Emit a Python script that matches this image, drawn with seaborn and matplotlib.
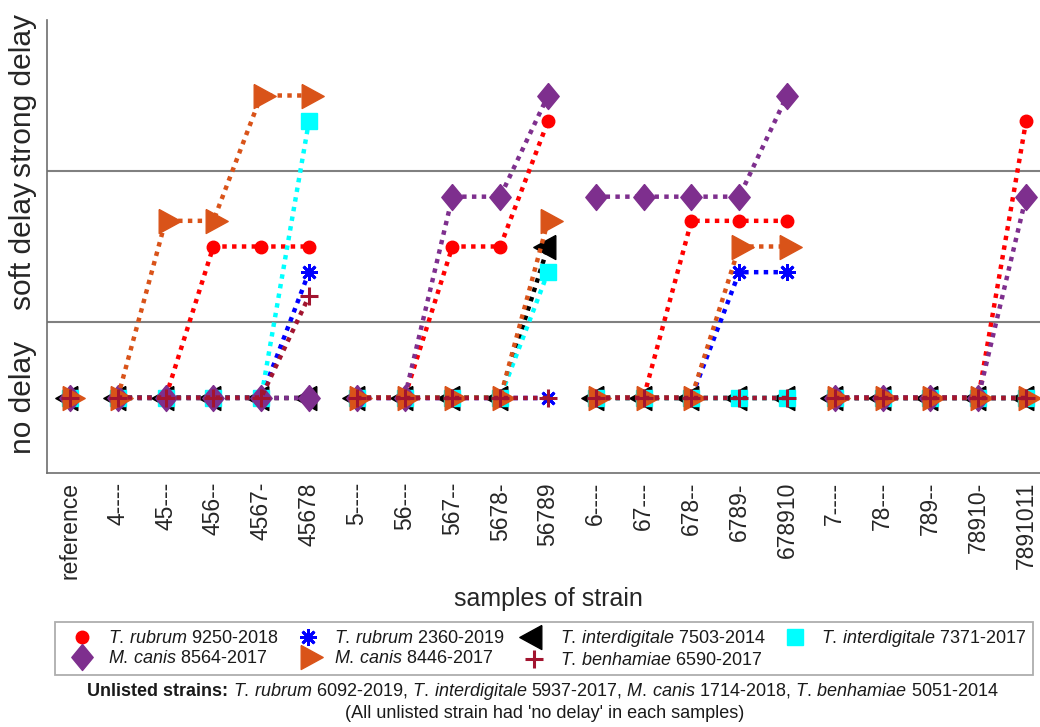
import numpy as np
import pandas as pd
import seaborn as sns
import matplotlib.pyplot as plt
from matplotlib.lines import Line2D

# Datos
muestras = ["reference", "4----", "45---", "456--", "4567-", "45678",
            "5----", "56---", "567--", "5678-", "56789",
            "6----", "67---", "678--", "6789-", "678910",
            "7----", "78---", "789--", "78910-", "7891011"]
grupos = [0, 1, 1, 1, 1, 1, 2, 2, 2, 2, 2, 3, 3, 3, 3, 3, 4, 4, 4, 4, 4]

niveles = ["no delay", "soft delay", "strong delay"]

rubrum_9250 = [0, 0, 0, 1, 1, 1, 0, 0, 1, 1, 1.83, 0, 0, 1.17, 1.17, 1.17, 0, 0, 0, 0, 1.83]
rubrum_2360 = [0, 0, 0, 0, 0, 0.83, 0, 0, 0, 0, 0, 0, 0, 0, 0.83, 0.83, 0, 0, 0, 0, 0]
interdig_7503 = [0, 0, 0, 0, 0, 0, 0, 0, 0, 0, 1.0, 0, 0, 0, 0, 0, 0, 0, 0, 0, 0]
interdig_7371 = [0, 0, 0, 0, 0, 1.83, 0, 0, 0, 0, 0.83, 0, 0, 0, 0, 0, 0, 0, 0, 0, 0]
canis_8564 = [0, 0, 0, 0, 0, 0, 0, 0, 1.33, 1.33, 2.0, 1.33, 1.33, 1.33, 1.33, 2.0, 0, 0, 0, 0, 1.33]
canis_8446 = [0, 0, 1.17, 1.17, 2.0, 2.0, 0, 0, 0, 0, 1.17, 0, 0, 0, 1.0, 1.0, 0, 0, 0, 0, 0]
benham_6590 = [0, 0, 0, 0, 0, 0.67, 0, 0, 0, 0, 0, 0, 0, 0, 0, 0, 0, 0, 0, 0, 0]

etiquetas = [r"$\mathit{T.\,rubrum}$ 9250-2018",
             r"$\mathit{T.\,rubrum}$ 2360-2019",
             r"$\mathit{T.\,interdigitale}$ 7503-2014",
             r"$\mathit{T.\,interdigitale}$ 7371-2017",
             r"$\mathit{M.\,canis}$ 8564-2017",
             r"$\mathit{M.\,canis}$ 8446-2017",
             r"$\mathit{T.\,benhamiae}$ 6590-2017"]

sns.set_style("white")
plt.rcParams["font.family"] = ["Liberation Sans", "DejaVu Sans"]
plt.rcParams["mathtext.fontset"] = "custom"
plt.rcParams["mathtext.rm"] = "Liberation Sans"
plt.rcParams["mathtext.it"] = "Liberation Sans:italic"
plt.rcParams["mathtext.bf"] = "Liberation Sans:bold"


def marcador_px(verts):
    # marcador propio: devuelve vértices y tamaño en puntos (a 100 dpi)
    extremo = max(abs(v) for p in verts for v in p)
    return verts, 2 * extremo * 72 / 100


# triángulos centrados en el baricentro, como en MATLAB
tri_der, tam_der = marcador_px([(-7.3, 12), (14.7, 0), (-7.3, -12), (-7.3, 12)])
tri_izq, tam_izq = marcador_px([(7.3, 12), (-14.7, 0), (7.3, -12), (7.3, 12)])
diamante, tam_diam = marcador_px([(0, 13), (10.7, 0), (0, -13), (-10.7, 0), (0, 13)])

# color, marcador, tamaño, grosor de borde
estilos = [
    ("#FF0000", "o", 9, 1.0),
    ("#0000FF", (8, 2, 0), 12, 2.0),
    ("#000000", tri_izq, tam_izq, 1.0),
    ("#00FFFF", "s", 11.5, 1.0),
    ("#7E2F8E", diamante, tam_diam, 1.0),
    ("#D95319", tri_der, tam_der, 1.0),
    ("#A2142F", "+", 12.5, 2.2),
]
series = [rubrum_9250, rubrum_2360, interdig_7503, interdig_7371,
          canis_8564, canis_8446, benham_6590]

fig = plt.figure(figsize=(10.4, 7.27), dpi=100)
ax = fig.add_axes([47 / 1040, 254 / 727, 1003 / 1040, 453 / 727])

for nivel in [0.5, 1.5]:
    ax.axhline(nivel, color="#808080", linewidth=1.5, zorder=1)

pos = np.arange(len(muestras))
for valores, (color, marcador, tam, borde) in zip(series, estilos):
    df = pd.DataFrame({"pos": pos, "grupo": grupos, "delay": valores})
    sns.lineplot(data=df, x="pos", y="delay", units="grupo", estimator=None,
                 sort=False, color=color, marker=marcador, markersize=tam,
                 markeredgecolor=color, markeredgewidth=borde,
                 linestyle=(0, (1, 1.2)), linewidth=3.2, legend=False,
                 ax=ax, zorder=3)

ax.set_xlim(-0.48, 20.5)
ax.set_ylim(-0.5, 2.5)
ax.set_xticks(pos)
ax.set_xticklabels(muestras, rotation=90, fontsize=16.5, color="#262626")
ax.set_yticks([0, 1, 2])
ax.set_yticklabels(niveles, rotation=90, va="center", fontsize=21.5, color="#262626")
ax.tick_params(axis="both", direction="in", length=7, width=1, colors="#555555")
ax.tick_params(axis="x", pad=6.5, labelcolor="#262626")
ax.tick_params(axis="y", pad=7, labelcolor="#262626")

for lado in ["top", "right"]:
    ax.spines[lado].set_visible(False)
for lado in ["left", "bottom"]:
    ax.spines[lado].set_color("#6e6e6e")
    ax.spines[lado].set_linewidth(1.2)

ax.set_xlabel("samples of strain", fontsize=18, color="#262626", va="top")
ax.xaxis.set_label_coords(0.5, -0.252)
ax.set_ylabel("")

# Leyenda (solo marcadores), ordenada por filas como en el original
manijas = [Line2D([], [], linestyle="none", marker=m, markersize=t, color=c,
                  markeredgecolor=c, markeredgewidth=b)
           for c, m, t, b in estilos]
orden = [0, 4, 1, 5, 2, 6, 3]
leg = fig.legend([manijas[i] for i in orden], [etiquetas[i] for i in orden],
                 loc="upper left", bbox_to_anchor=(55 / 1040, 1 - 622 / 727),
                 ncol=4, fontsize=13, frameon=True, fancybox=False,
                 borderpad=0.35, handlelength=2.3, handletextpad=0.3,
                 columnspacing=0.45, labelspacing=0.15, borderaxespad=0)
leg.get_frame().set_edgecolor("#999999")
leg.get_frame().set_linewidth(1.3)
for t in leg.get_texts():
    t.set_color("#1a1a1a")

# Notas al pie
y1 = 1 - 696 / 727
t1 = fig.text(87 / 1040, y1, "Unlisted strains:", fontsize=13,
              fontweight="bold", va="baseline", color="#1a1a1a")
fig.canvas.draw()
bb = t1.get_window_extent()
x_sig = fig.transFigure.inverted().transform((bb.x1 + 5, 0))[0]
fig.text(x_sig, y1,
         r"$\mathit{T.\,rubrum}$ 6092-2019, $\mathit{T.\,interdigitale}$ 5937-2017, "
         r"$\mathit{M.\,canis}$ 1714-2018, $\mathit{T.\,benhamiae}$ 5051-2014",
         fontsize=13, va="baseline", color="#1a1a1a")
fig.text(545 / 1040, 1 - 713 / 727,
         "(All unlisted strain had 'no delay' in each samples)",
         fontsize=13, ha="center", va="center", color="#1a1a1a")

fig.savefig("out.png", dpi=100)
